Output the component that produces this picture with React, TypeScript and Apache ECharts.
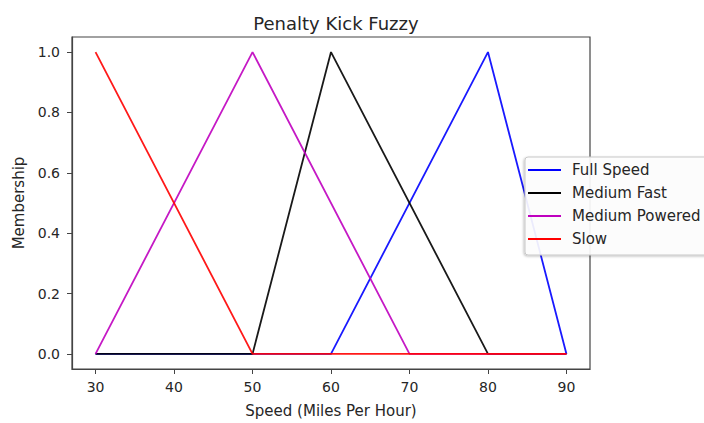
import React, { useEffect, useRef } from "react";
import * as echarts from "echarts";

const titleText = "Penalty Kick Fuzzy";
const xAxisName = "Speed (Miles Per Hour)";
const yAxisName = "Membership";
const xTicks = [30, 40, 50, 60, 70, 80, 90];
const yTicks = [0, 0.2, 0.4, 0.6, 0.8, 1.0];

const seriesNames = ["Full Speed", "Medium Fast", "Medium Powered", "Slow"];
const fullSpeedX = [30, 60, 80, 90];
const fullSpeedY = [0, 0, 1, 0];
const mediumFastX = [30, 50, 60, 80, 90];
const mediumFastY = [0, 0, 1, 0, 0];
const mediumPoweredX = [30, 50, 70, 90];
const mediumPoweredY = [0, 1, 0, 0];
const slowX = [30, 50, 90];
const slowY = [1, 0, 0];
const seriesColors = ["#0000ff", "#000000", "#bf00bf", "#ff0000"];

const zip = (xs: number[], ys: number[]) => xs.map((x, i) => [x, ys[i]]);

export default function App() {
  const ref = useRef<HTMLDivElement>(null);
  useEffect(() => {
    if (!ref.current) return;
    const chart = echarts.init(ref.current, undefined, { renderer: "svg" });
    const font = "DejaVu Sans";
    const textColor = "#262626";
    const axisColor = "#444";
    const datasets = [
      zip(fullSpeedX, fullSpeedY),
      zip(mediumFastX, mediumFastY),
      zip(mediumPoweredX, mediumPoweredY),
      zip(slowX, slowY),
    ];
    chart.setOption({
      animation: false,
      backgroundColor: "#ffffff",
      textStyle: { fontFamily: font },
      title: {
        text: titleText,
        left: 331,
        textAlign: "center",
        top: 9,
        textStyle: { fontFamily: font, fontSize: 18, fontWeight: "normal", color: textColor },
      },
      grid: {
        left: 72,
        right: 114,
        top: 37,
        bottom: 50,
        show: true,
        borderColor: axisColor,
        borderWidth: 1.2,
        backgroundColor: "transparent",
      },
      legend: {
        orient: "vertical",
        left: 525,
        top: 157,
        padding: [5, 14, 8, 3],
        icon: "rect",
        itemWidth: 33,
        itemHeight: 2,
        itemGap: 7,
        backgroundColor: "rgba(255,255,255,0.9)",
        borderColor: "#c8c8c8",
        borderWidth: 1,
        borderRadius: 3,
        shadowColor: "rgba(0,0,0,0.25)",
        shadowBlur: 2,
        shadowOffsetX: -1,
        shadowOffsetY: 1,
        textStyle: { fontFamily: font, fontSize: 15, color: textColor, lineHeight: 16, padding: [0, 0, 0, 6] },
        data: seriesNames,
      },
      xAxis: {
        type: "value",
        min: 27,
        max: 93,
        name: xAxisName,
        nameLocation: "middle",
        nameGap: 34,
        nameTextStyle: { fontFamily: font, fontSize: 15, color: textColor },
        axisLine: { show: true, onZero: false, lineStyle: { color: axisColor, width: 1.2 } },
        axisTick: { show: true, length: 5, lineStyle: { color: axisColor }, customValues: xTicks },
        axisLabel: { fontFamily: font, fontSize: 14, color: textColor, margin: 11, customValues: xTicks },
        splitLine: { show: false },
      },
      yAxis: {
        type: "value",
        min: -0.05,
        max: 1.05,
        name: yAxisName,
        nameLocation: "middle",
        nameGap: 44,
        nameTextStyle: { fontFamily: font, fontSize: 15, color: textColor },
        axisLine: { show: true, onZero: false, lineStyle: { color: axisColor, width: 1.2 } },
        axisTick: { show: true, length: 5, lineStyle: { color: axisColor }, customValues: yTicks },
        axisLabel: {
          fontFamily: font,
          fontSize: 14,
          color: textColor,
          margin: 12,
          customValues: yTicks,
          formatter: (v: number) => v.toFixed(1),
        },
        splitLine: { show: false },
      },
      series: seriesNames.map((name, i) => ({
        name,
        type: "line",
        data: datasets[i],
        symbol: "none",
        showSymbol: false,
        color: seriesColors[i],
        lineStyle: { color: seriesColors[i], width: 1.8, opacity: 0.9 },
        z: 2 + i,
      })),
    });
    return () => chart.dispose();
  }, []);
  return <div ref={ref} style={{ width: 704, height: 423, position: "absolute", left: 0, top: 0 }} />;
}
